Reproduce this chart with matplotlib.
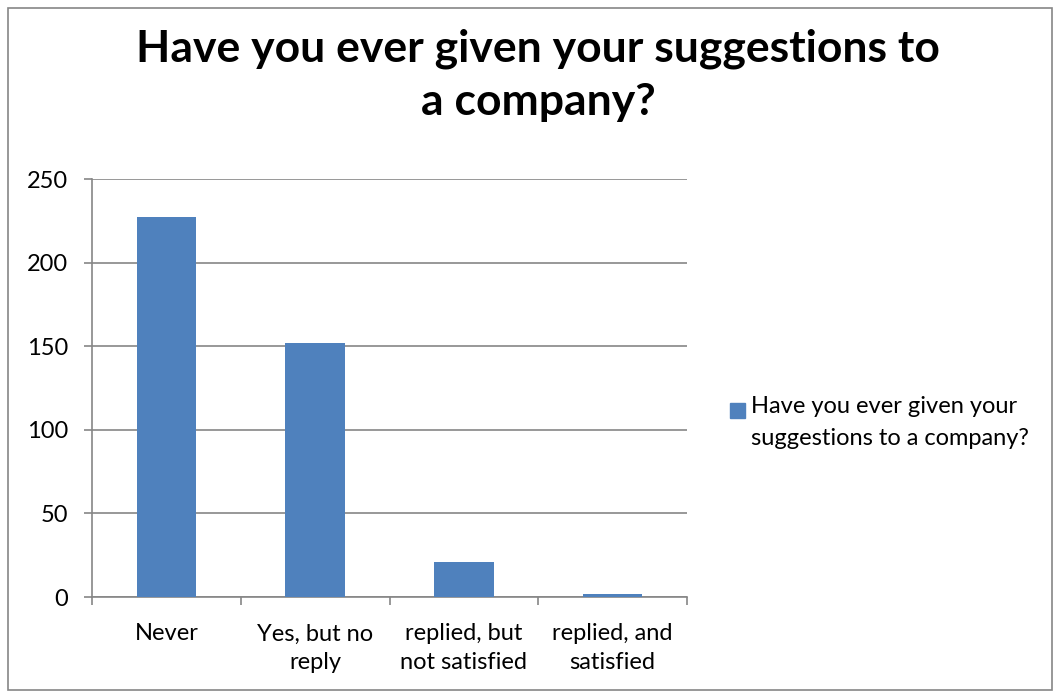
import matplotlib
matplotlib.use("Agg")
from matplotlib import pyplot as plt
from matplotlib.patches import Rectangle

plt.rcParams['font.family'] = ['Lato', 'DejaVu Sans']

# survey answers and their counts
categories = ["Never", "Yes, but no\nreply", "replied, but\nnot satisfied", "replied, and\nsatisfied"]
counts = [227, 152, 21, 2]
series_name = "Have you ever given your\nsuggestions to a company?"
title = "Have you ever given your suggestions to\na company?"
bar_color = "#4F81BD"
grey = "#868686"

fig = plt.figure(figsize=(10.6, 6.95), dpi=100)
ax = fig.add_axes([92 / 1060, 1 - 597 / 695, (687 - 92) / 1060, (597 - 179) / 695])

x = range(len(categories))
ax.bar(x, counts, width=0.4, color=bar_color, zorder=3)

ax.set_xlim(-0.5, len(categories) - 0.5)
ax.set_ylim(0, 250)
ax.set_yticks(range(0, 251, 50))
ax.grid(axis="y", color=grey, linewidth=1.2, zorder=0)

ax.set_xticks(list(x))
ax.set_xticklabels(categories, fontsize=17, linespacing=1.45)
ax.set_xticks([i - 0.5 for i in range(len(categories) + 1)], minor=True)
ax.tick_params(axis="x", which="major", length=0, pad=19)
ax.tick_params(axis="x", which="minor", length=6, width=1.2, color=grey)
ax.tick_params(axis="y", length=6, width=1.2, color=grey, labelsize=17, pad=11)

for side in ["top", "right"]:
    ax.spines[side].set_visible(False)
for side in ["left", "bottom"]:
    ax.spines[side].set_color(grey)
    ax.spines[side].set_linewidth(1.2)

fig.text(538 / 1060, 1 - 75 / 695, title, ha="center", va="center",
         fontsize=32, fontweight="bold", linespacing=1.4)

# legend: colour key plus series name
fig.patches.append(Rectangle((730 / 1060, 1 - 418 / 695), 15 / 1060, 15 / 695,
                             transform=fig.transFigure, color=bar_color))
fig.text(751 / 1060, 1 - 396 / 695, series_name, ha="left", va="top",
         fontsize=17, linespacing=1.65)

# chart border
fig.patches.append(Rectangle((8 / 1060, 5 / 695), 1044 / 1060, 682 / 695,
                             transform=fig.transFigure, fill=False,
                             edgecolor=grey, linewidth=1.2))

fig.savefig("out.png", dpi=100)
